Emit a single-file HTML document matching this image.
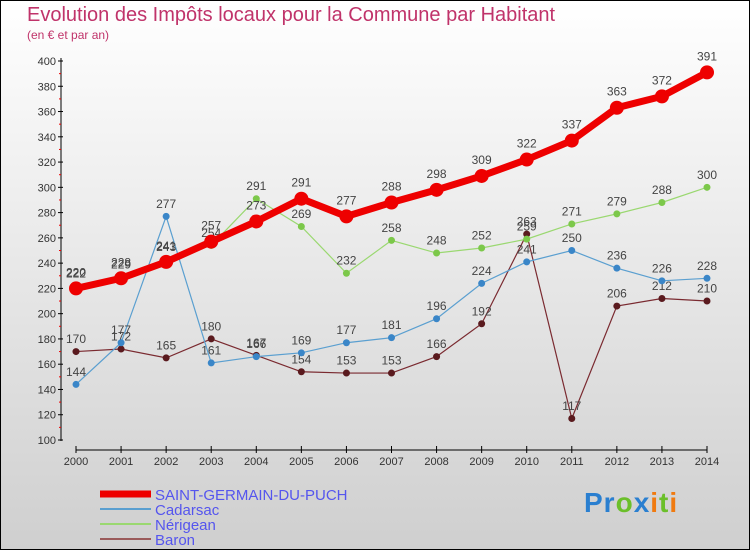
<!DOCTYPE html>
<html><head><meta charset="utf-8"><style>
body{margin:0}
#wrap{position:relative;width:748px;height:548px;border:1px solid #000;background:linear-gradient(#ffffff,#cfcfcf);font-family:"Liberation Sans",sans-serif;overflow:hidden}
.t{position:absolute;color:#c0336a}
</style></head><body>
<div id="wrap">
<div class="t" style="left:26px;top:3px;font-size:20px">Evolution des Impôts locaux pour la Commune par Habitant</div>
<div class="t" style="left:26px;top:27px;font-size:12px">(en € et par an)</div>
<svg id="c" width="750" height="550" style="position:absolute;left:-1px;top:-1px"></svg>
<div style="position:absolute;left:583px;top:486px;font-size:28px;font-weight:bold;letter-spacing:1px"><span style="color:#2a7fd0">Pr</span><span style="color:#6bbf2a">o</span><span style="color:#2a7fd0">x</span><span style="color:#f07a10">i</span><span style="color:#6bbf2a">t</span><span style="color:#f07a10">i</span></div>
</div>
<script>
const years=[2000,2001,2002,2003,2004,2005,2006,2007,2008,2009,2010,2011,2012,2013,2014];
const yTicks=[100,120,140,160,180,200,220,240,260,280,300,320,340,360,380,400];
const sgdp=[220,228,241,257,273,291,277,288,298,309,322,337,363,372,391];
const cadarsac=[144,177,277,161,166,169,177,181,196,224,241,250,236,226,228];
const nerigean=[222,229,243,254,291,269,232,258,248,252,259,271,279,288,300];
const baron=[170,172,165,180,167,154,153,153,166,192,263,117,206,212,210];
const series=[
 {name:'Baron',vals:baron,color:'#7a2a30',pt:'#5a1a1e',w:1.2,r:3.5},
 {name:'Cadarsac',vals:cadarsac,color:'#5a9fd0',pt:'#3a86c8',w:1.2,r:3.5},
 {name:'Nérigean',vals:nerigean,color:'#9ad870',pt:'#7cc84a',w:1.2,r:3.5},
 {name:'SAINT-GERMAIN-DU-PUCH',vals:sgdp,color:'#ee0000',pt:'#ee0000',w:7,r:7}
];
const NS='http://www.w3.org/2000/svg';
const svg=document.getElementById('c');
function X(i){return 76+i*(707-76)/(years.length-1);}
function Y(v){return 440-(v-100)*(440-61)/300;}
function mk(tag,at,name){const e=document.createElementNS(NS,tag);for(const k in at)e.setAttribute(k,at[k]);


svg.appendChild(e);return e;}
mk('line',{x1:61,y1:58,x2:61,y2:441,stroke:'#000'},'y-axis');
yTicks.forEach(v=>{mk('line',{x1:58,x2:63,y1:Y(v),y2:Y(v),stroke:'#000'},'y-tick');
const t=mk('text',{x:56,y:Y(v)+4,'text-anchor':'end','font-size':11,fill:'#333','font-family':'Liberation Sans'},'y-tick-label');t.textContent=v;
if(v<400)mk('line',{x1:59,x2:61,y1:Y(v+10),y2:Y(v+10),stroke:'#e00'},'y-minor-tick');});
mk('line',{x1:76,y1:450,x2:707,y2:450,stroke:'#000'},'x-axis');
years.forEach((y,i)=>{mk('line',{x1:X(i),x2:X(i),y1:446,y2:453,stroke:'#000'},'x-tick');
const t=mk('text',{x:X(i),y:465,'text-anchor':'middle','font-size':11,fill:'#333','font-family':'Liberation Sans'},'x-tick-label');t.textContent=y;});
series.forEach(s=>{
 const pts=s.vals.map((v,i)=>X(i)+','+Y(v)).join(' ');
 mk('polyline',{points:pts,fill:'none',stroke:s.color,'stroke-width':s.w},'line-'+s.name.toLowerCase());
 s.vals.forEach((v,i)=>{mk('circle',{cx:X(i),cy:Y(v),r:s.r,fill:s.pt},'point-'+s.name.toLowerCase());
 const t=mk('text',{x:X(i),y:Y(v)-(s.r+5),'text-anchor':'middle','font-size':12,fill:'#444','font-family':'Liberation Sans'},'value-label');t.textContent=v;});
});
const leg=[['SAINT-GERMAIN-DU-PUCH','#ee0000',7],['Cadarsac','#5a9fd0',2],['Nérigean','#9ad870',2],['Baron','#9a5a5a',2]];
leg.forEach((l,i)=>{const y=494+i*15;
mk('line',{x1:100,x2:151,y1:y,y2:y,stroke:l[1],'stroke-width':l[2]},'legend-swatch');
const t=mk('text',{x:155,y:y+6,'font-size':15,fill:'#5555ee','font-family':'Liberation Sans'},'legend-entry');t.textContent=l[0];});
</script>
</body></html>
